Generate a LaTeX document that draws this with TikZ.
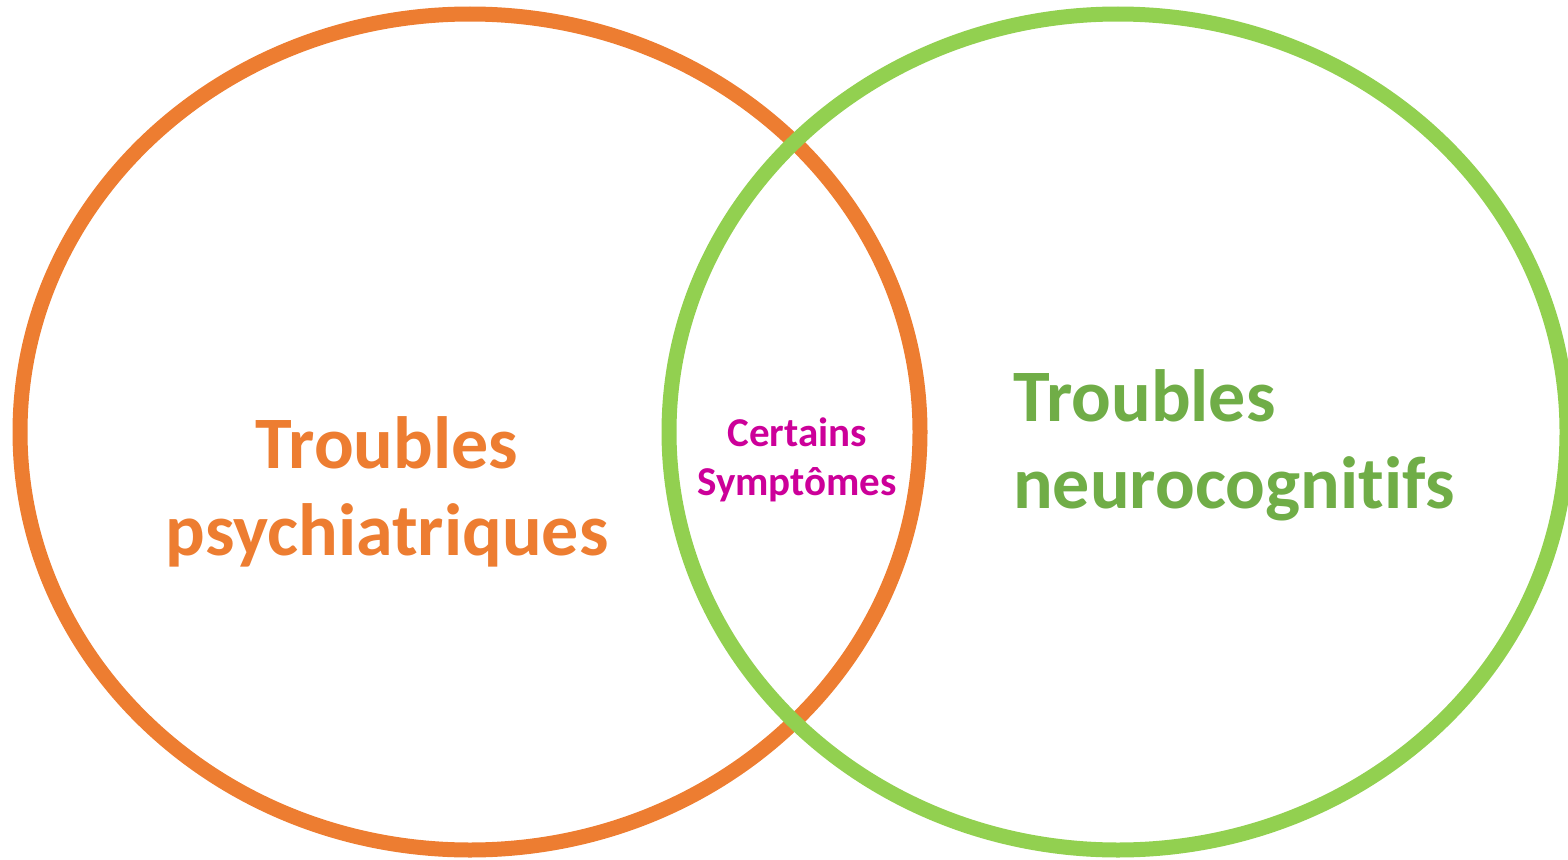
\documentclass[tikz,border=0pt]{standalone}
\usepackage{fontspec}
\setmainfont{Carlito}[Ligatures=NoCommon]
\usepackage{tikz}
\definecolor{psyOrange}{HTML}{ED7D31}
\definecolor{neuroGreen}{HTML}{92D050}
\definecolor{neuroText}{HTML}{70AD47}
\definecolor{commonText}{HTML}{CC0099}

\begin{document}
\begin{tikzpicture}[x=1pt, y=-1pt,
  bigLabel/.style={font=\fontsize{74}{87}\selectfont\bfseries, inner sep=0pt, anchor=base},
  smallLabel/.style={font=\fontsize{41}{49}\selectfont\bfseries, inner sep=0pt, anchor=base, align=center}]
\useasboundingbox (0,0) rectangle (1568,859);
\draw[psyOrange, line width=15pt] (470,432) ellipse [x radius=450, y radius=418];
\draw[neuroGreen, line width=15pt] (1118,432) ellipse [x radius=449, y radius=418];
\node[bigLabel, text=psyOrange, align=center] (psy) at (387,555) {Troubles\\psychiatriques};
\node[bigLabel, text=neuroText, align=left, anchor=base west] (neuro) at (1013,508) {Troubles\\neurocognitifs};
\node[smallLabel, text=commonText] (common) at (797,495) {Certains\\Symptômes};
\end{tikzpicture}
\end{document}
